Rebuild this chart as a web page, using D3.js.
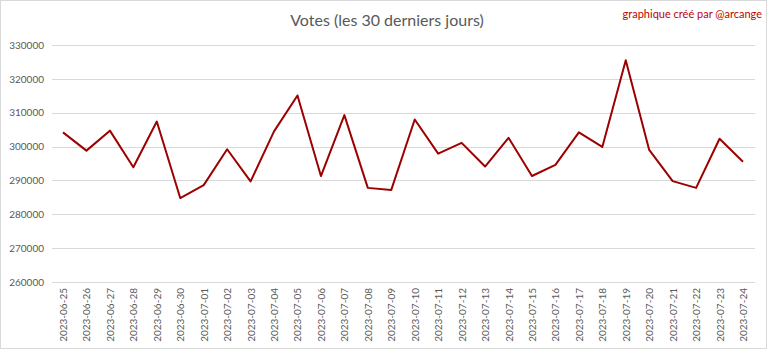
<!DOCTYPE html>
<html><head><meta charset="utf-8">
<script src="https://cdn.jsdelivr.net/npm/d3@7"></script>
<style>body{margin:0;background:#fff}svg{display:block}</style>
</head><body>
<script>
const dates = ["2023-06-25","2023-06-26","2023-06-27","2023-06-28","2023-06-29","2023-06-30","2023-07-01","2023-07-02","2023-07-03","2023-07-04","2023-07-05","2023-07-06","2023-07-07","2023-07-08","2023-07-09","2023-07-10","2023-07-11","2023-07-12","2023-07-13","2023-07-14","2023-07-15","2023-07-16","2023-07-17","2023-07-18","2023-07-19","2023-07-20","2023-07-21","2023-07-22","2023-07-23","2023-07-24"];
const votes = [304200,298800,304700,293900,307400,284800,288600,299200,289700,304500,315100,291300,309300,287800,287200,308000,297900,301100,294100,302600,291300,294600,304200,299900,325500,299000,289800,287800,302300,295500];
const yTicks = [260000,270000,280000,290000,300000,310000,320000,330000];
const title = "Votes (les 30 derniers jours)";
const credit = "graphique créé par @arcange";

const W=768,H=350;
const svg=d3.select("body").append("svg").attr("width",W).attr("height",H);
svg.append("rect").attr("x",0.5).attr("y",0.5).attr("width",W-2).attr("height",H-2).attr("fill","#fff").attr("stroke","#d9d9d9");
const mLeft=52,mRight=755,mTop=45,mBottom=282;
const x=d3.scalePoint().domain(dates).range([63,743]);
const y=d3.scaleLinear().domain([260000,330000]).range([mBottom,mTop]);
const font="Lato, 'Open Sans', sans-serif";

// gridlines
svg.append("g").selectAll("line").data(yTicks).join("line")
 .attr("x1",mLeft).attr("x2",mRight).attr("y1",d=>Math.round(y(d))+0.5).attr("y2",d=>Math.round(y(d))+0.5)
 .attr("stroke","#d9d9d9").attr("stroke-width",1);

// y axis
const ya=svg.append("g").attr("transform",`translate(${mLeft},0)`)
 .call(d3.axisLeft(y).tickValues(yTicks).tickFormat(d=>d).tickSize(0).tickPadding(8));
ya.select(".domain").remove();
ya.selectAll("text").attr("font-family",font).attr("font-size",10).attr("fill","#595959");

// x axis
const xa=svg.append("g").attr("transform",`translate(0,${mBottom})`)
 .call(d3.axisBottom(x).tickSize(0).tickPadding(0));
xa.select(".domain").remove();
xa.selectAll("text").attr("font-family",font).attr("font-size",10).attr("fill","#595959")
 .attr("transform","translate(0,6) rotate(-90)").attr("text-anchor","end").attr("x",0).attr("y",0).attr("dy","0.35em");

svg.append("path").datum(votes).attr("fill","none").attr("stroke","#9c0000").attr("stroke-width",2).attr("stroke-linejoin","round")
 .attr("d",d3.line().x((d,i)=>x(dates[i])).y(d=>y(d)));
svg.append("text").attr("x",387).attr("y",26).attr("text-anchor","middle").attr("font-family",font).attr("font-size",16).attr("fill","#595959").text(title);
svg.append("text").attr("x",762).attr("y",18).attr("text-anchor","end").attr("font-family",font).attr("font-size",11).attr("fill","#c00000").text(credit);
</script>
</body></html>
